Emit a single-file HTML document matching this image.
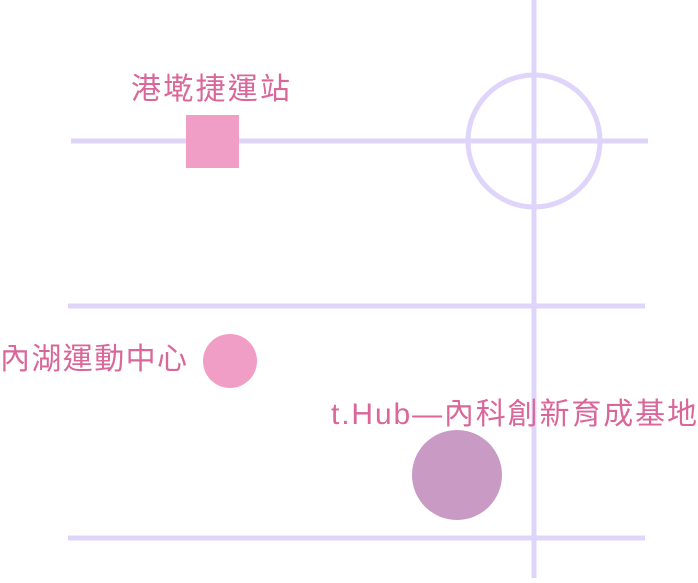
<!DOCTYPE html>
<html><head><meta charset="utf-8"><style>
body{margin:0;width:698px;height:578px;background:#fff;overflow:hidden}
text{font-family:"Liberation Sans","Noto Sans CJK TC",sans-serif;fill:#d9679a;font-size:30px}
</style></head><body>
<svg width="698" height="578" xmlns="http://www.w3.org/2000/svg">
<g stroke="#dfd5fb" stroke-width="5" fill="none">
<line x1="71" y1="141" x2="648" y2="141"/>
<line x1="68" y1="306" x2="645" y2="306"/>
<line x1="68" y1="538" x2="645" y2="538"/>
<line x1="534" y1="0" x2="534" y2="578"/>
<circle cx="534" cy="141" r="66"/>
</g>
<rect x="186" y="115" width="53" height="53" fill="#f19ec6"/>
<circle cx="230" cy="361" r="27" fill="#f19ec6"/>
<circle cx="457" cy="475" r="45" fill="#c89ac4"/>
<text x="131" y="99" textLength="159">港墘捷運站</text>
<text x="0" y="369" textLength="187">內湖運動中心</text>
<text x="331" y="424" textLength="366">t.Hub—內科創新育成基地</text>
</svg>
</body></html>
